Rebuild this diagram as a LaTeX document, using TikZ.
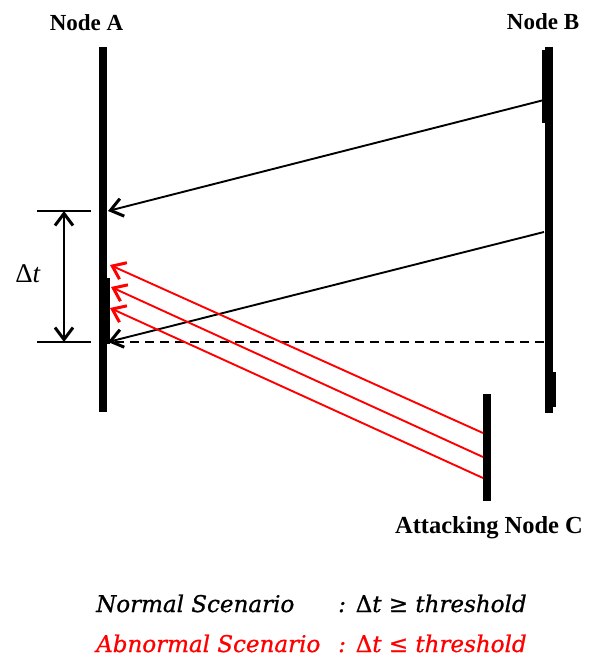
\documentclass[tikz,border=0pt]{standalone}
\usepackage{fontspec}
\setmainfont{Liberation Serif}
\newfontfamily\legendfont[FakeBold=0.8]{DejaVu Serif}
\usetikzlibrary{arrows.meta}
\definecolor{myred}{RGB}{255,0,0}
\begin{document}
\begin{tikzpicture}[x=1pt,y=-1pt,
  life/.style={line width=8pt},
  barbtip/.tip={Straight Barb[length=12pt,width=18pt,line width=3pt]},
  msg/.style={line width=1.9pt,-barbtip},
  redmsg/.style={msg,draw=myred},
  tick/.style={line width=1.9pt},
  nlabel/.style={font=\fontsize{23}{26}\selectfont\bfseries,anchor=base,inner sep=0pt},
  bottomtxt/.style={font=\legendfont\itshape\fontsize{23}{26}\selectfont,anchor=base west,inner sep=0pt}]
\useasboundingbox (0,0) rectangle (589,661);
% lifelines
\coordinate (At) at (103,47);  \coordinate (Ab) at (103,412);
\coordinate (Bt) at (548.5,47); \coordinate (Bb) at (548.5,413);
\coordinate (Ct) at (486.5,394); \coordinate (Cb) at (486.5,501);
\draw[life] (At) -- (Ab);
\draw[life] (Bt) -- (Bb);
\draw[life] (Ct) -- (Cb);
% small irregularities of the lifelines
\fill (106,278) rectangle (110,344);
\fill (542,50) rectangle (545,123);
\fill (552,372) rectangle (556,407);
% labels
\node[nlabel] (labA) at (86.5,31) {Node A};
\node[nlabel] (labB) at (543,30) {Node B};
\node[nlabel,font=\fontsize{24.5}{28}\selectfont\bfseries] (labC) at (489,533) {Attacking Node C};
% normal messages
\coordinate (b1) at (544,100); \coordinate (a1) at (108,211);
\coordinate (b2) at (544,232); \coordinate (a2) at (108,342);
\coordinate (b3) at (544,342);
\draw[msg] (b1) -- (a1);
\draw[msg] (b2) -- (a2);
\draw[line width=1.9pt,dash pattern=on 9pt off 6pt] (b3) -- (a2);
% attack messages
\coordinate (c1) at (483,433); \coordinate (r1) at (110,265);
\coordinate (c2) at (483,457); \coordinate (r2) at (111,287);
\coordinate (c3) at (483,478); \coordinate (r3) at (110,308);
\draw[redmsg] (c1) -- (r1);
\draw[redmsg] (c2) -- (r2);
\draw[redmsg] (c3) -- (r3);
% delta t
\coordinate (t1l) at (37,211); \coordinate (t1r) at (91,211);
\coordinate (t2l) at (37,342); \coordinate (t2r) at (91,342);
\coordinate (v1) at (64,211); \coordinate (v2) at (64,342);
\draw[tick] (t1l) -- (t1r);
\draw[tick] (t2l) -- (t2r);
\draw[line width=1.9pt,barbtip-barbtip] (v1) -- (v2);
\node[font=\fontsize{27}{30}\selectfont,anchor=base,inner sep=0pt] (dt) at (28,282) {Δ\textit{t}};
% legend
\node[bottomtxt] (n1) at (96,612) {Normal Scenario};
\node[bottomtxt] (n2) at (338,612) {: \textup{Δ}t ≥ threshold};
\node[bottomtxt,text=myred] (m1) at (96,652) {Abnormal Scenario};
\node[bottomtxt,text=myred] (m2) at (338,652) {: \textup{Δ}t ≤ threshold};
\end{tikzpicture}
\end{document}
